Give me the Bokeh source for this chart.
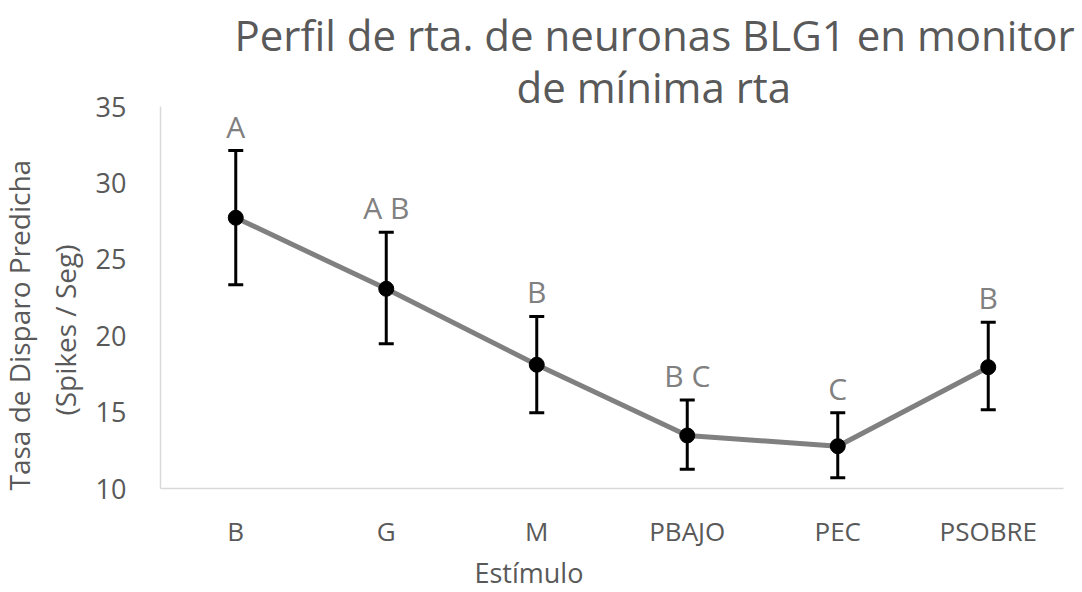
from bokeh.plotting import figure
from bokeh.models import (ColumnDataSource, FactorRange, Range1d, FixedTicker,
                          Whisker, TeeHead, Title)
from bokeh.core.properties import value
from bokeh.embed import file_html
from bokeh.resources import INLINE

# Stimulus categories and predicted firing rates (spikes / s)
stimulos = ["B", "G", "M", "PBAJO", "PEC", "PSOBRE"]
tasa = [27.72, 23.07, 18.10, 13.47, 12.77, 17.94]
limite_sup = [32.12, 26.77, 21.26, 15.80, 14.95, 20.88]
limite_inf = [23.33, 19.47, 14.95, 11.26, 10.70, 15.15]
letras = ["A", "A B", "B", "B C", "C", "B"]
y_ticks = [10, 15, 20, 25, 30, 35]

FONT = "Open Sans"
GRIS_TEXTO = "#595959"
GRIS_LETRA = "#808080"

src = ColumnDataSource(dict(x=stimulos, y=tasa, sup=limite_sup,
                            inf=limite_inf, letra=letras))

p = figure(width=1082, height=592, x_range=FactorRange(factors=stimulos),
           y_range=Range1d(10, 35), output_backend="svg",
           toolbar_location=None, min_border_left=160, min_border_right=19,
           min_border_top=106, min_border_bottom=104)
p.outline_line_color = None
p.background_fill_color = "white"
p.border_fill_color = "white"
p.xgrid.visible = False
p.ygrid.visible = False

# axes
p.yaxis.ticker = FixedTicker(ticks=y_ticks)
for ax in (p.xaxis[0], p.yaxis[0]):
    ax.axis_line_color = "#d9d9d9"
    ax.axis_line_width = 1.5
    ax.major_tick_line_color = None
    ax.minor_tick_line_color = None
    ax.major_label_text_color = GRIS_TEXTO
    ax.major_label_text_font = FONT
p.yaxis.major_label_text_font_size = "27px"
p.yaxis.major_label_standoff = 28
p.xaxis.major_label_text_font_size = "26px"
p.xaxis.major_label_standoff = 18

# mean profile
p.line("x", "y", source=src, line_color="#808080", line_width=5)

# error bars
p.add_layout(Whisker(base="x", upper="sup", lower="inf", source=src,
                     line_color="black", line_width=3,
                     upper_head=TeeHead(size=15, line_color="black", line_width=3),
                     lower_head=TeeHead(size=15, line_color="black", line_width=3)))

p.scatter("x", "y", source=src, size=15, fill_color="black", line_color="black")

# significance letters
p.text("x", "sup", text="letra", source=src, y_offset=-4,
       text_align="center", text_baseline="bottom",
       text_font=value(FONT), text_font_size="30px", text_color=GRIS_LETRA)


def titulo(texto, lugar, size, offset, standoff):
    p.add_layout(Title(text=texto, align="left", offset=offset,
                       text_font=FONT, text_font_size=size,
                       text_font_style="normal", text_color=GRIS_TEXTO,
                       standoff=standoff), lugar)


# chart title (two lines, inner one first)
titulo("de mínima rta", "above", "42px", 356, -16)
titulo("Perfil de rta. de neuronas BLG1 en monitor", "above", "42px", 74, 2)
# y axis title (two lines, inner one first)
titulo("(Spikes / Seg)", "left", "28px", 73, 18)
titulo("Tasa de Disparo Predicha", "left", "28px", -2, -7)
# x axis title
titulo("Estímulo", "below", "27px", 314, 0)

open("out.html", "w").write(file_html(p, INLINE))
